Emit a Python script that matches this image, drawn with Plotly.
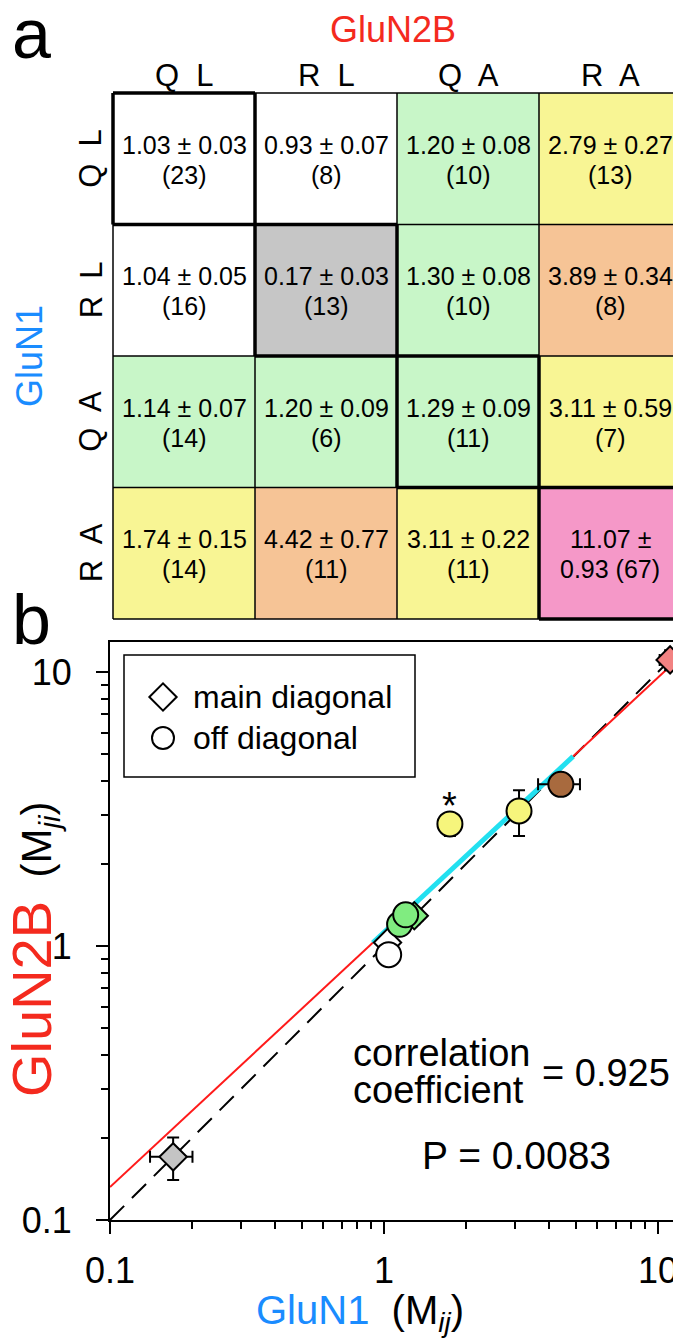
import numpy as np
import plotly.graph_objects as go

W, H = 681, 1339
FONT = "Liberation Sans, Arial, sans-serif"

# ---------------- data ----------------
subunits = ["Q  L", "R  L", "Q  A", "R  A"]          # GluN1 rows / GluN2B columns
m_mean = [[1.03, 0.93, 1.20, 2.79],
          [1.04, 0.17, 1.30, 3.89],
          [1.14, 1.20, 1.29, 3.11],
          [1.74, 4.42, 3.11, 11.07]]
m_sem = [[0.03, 0.07, 0.08, 0.27],
         [0.05, 0.03, 0.08, 0.34],
         [0.07, 0.09, 0.09, 0.59],
         [0.15, 0.77, 0.22, 0.93]]
m_n = [[23, 8, 10, 13],
       [16, 13, 10, 8],
       [14, 6, 11, 7],
       [14, 11, 11, 67]]
cell_class = [[0, 0, 2, 3],
              [0, 1, 2, 4],
              [2, 2, 2, 3],
              [3, 4, 3, 5]]
cell_palette = ["#ffffff", "#c6c6c6", "#c8f6c8", "#f8f594", "#f6c496", "#f598c8"]
marker_palette = ["#ffffff", "#c4c4c4", "#80ec80", "#f6f57c", "#a86a3e", "#f28282"]

fit_slope = 0.93
fit_log_intercept = 0.05
fit_x = [0.1, 11.07]
highlight_x = [0.91, 4.9]
identity_x = [0.1, 11.07]
starred_pairs = [(0, 3)]
stat_r = "0.925"
stat_p = "0.0083"

# ---------------- helpers (screen pixel -> paper; page body offsets the figure by 8px) ----------------
OFF = 8.0

def px(x):
    return (x - OFF) / W

def py(y):
    return 1 - (y - OFF) / H

def ann(x, y, text, size, color="black", xref="paper", yref="paper", xanchor="center",
        yanchor="middle", **kw):
    d = dict(x=x, y=y, xref=xref, yref=yref, text=text, showarrow=False,
             xanchor=xanchor, yanchor=yanchor,
             font=dict(size=size, color=color, family=FONT))
    d.update(kw)
    return d

fig = go.Figure()

# ---------------- panel a: heatmap ----------------
n = len(subunits)
cw, ch = 142.0, 131.5
gx0, gy0 = 113.0, 93.0
ncls = len(cell_palette)
cscale = []
for i, c in enumerate(cell_palette):
    cscale.append([i / ncls, c])
    cscale.append([(i + 1) / ncls, c])

fig.add_trace(go.Heatmap(z=cell_class, x=list(range(n)), y=list(range(n)),
                         colorscale=cscale, zmin=-0.5, zmax=ncls - 0.5,
                         showscale=False, hoverinfo="skip",
                         xaxis="x3", yaxis="y3"))

RIGHT = W + OFF          # screen x of paper right edge
hx0, hy0, hy1 = 110.0, 90.0, 622.0
x3_range = [(hx0 - gx0) / cw - 0.5, (RIGHT - gx0) / cw - 0.5]
y3_range = [(hy1 - gy0) / ch - 0.5, (hy0 - gy0) / ch - 0.5]

annotations = []
for i in range(n):
    for j in range(n):
        v, e, k = m_mean[i][j], m_sem[i][j], m_n[i][j]
        if v >= 10:
            l1, l2 = f"{v:.2f} ±", f"{e:.2f} ({k})"
        else:
            l1, l2 = f"{v:.2f} ± {e:.2f}", f"({k})"
        annotations.append(ann(j, i, l1, 25, xref="x3", yref="y3", yshift=14))
        annotations.append(ann(j, i, l2, 25, xref="x3", yref="y3", yshift=-16))

shapes = []
thin, thick = 1.5, 3.5
for j in range(n):  # vertical thin lines (far right edge is cut off)
    shapes.append(dict(type="line", xref="x3", yref="y3", x0=j - 0.5, x1=j - 0.5,
                       y0=-0.5, y1=n - 0.5, line=dict(color="black", width=thin)))
for i in range(n + 1):
    shapes.append(dict(type="line", xref="x3", yref="y3", x0=-0.5, x1=n - 0.5,
                       y0=i - 0.5, y1=i - 0.5, line=dict(color="black", width=thin)))
for k in range(n):
    segs = [((k - 0.5, k - 0.5), (k - 0.5, k + 0.5)),
            ((k - 0.5, k + 0.5), (k - 0.5, k - 0.5)),
            ((k - 0.5, k + 0.5), (k + 0.5, k + 0.5))]
    if k < n - 1:
        segs.append(((k + 0.5, k + 0.5), (k - 0.5, k + 0.5)))
    for (xa, xb), (ya, yb) in segs:
        shapes.append(dict(type="line", xref="x3", yref="y3", x0=xa, x1=xb, y0=ya, y1=yb,
                           line=dict(color="black", width=thick)))

# headers
for j, s in enumerate(subunits):
    annotations.append(ann(j, py(75), s, 31, xref="x3"))
    annotations.append(ann(px(91), j, s, 31, yref="y3", textangle=-90))
annotations.append(ann(px(393), py(29), "GluN2B", 36, color="#f42a1e"))
annotations.append(ann(px(29), py(356), "GluN1", 36, color="#1a8cff", textangle=-90))
annotations.append(ann(px(10), py(34), "a", 70, xanchor="left"))
annotations.append(ann(px(10), py(620), "b", 70, xanchor="left"))

# ---------------- panel b: scatter ----------------
fx = np.array(fit_x)
fig.add_trace(go.Scatter(x=identity_x, y=identity_x, mode="lines",
                         line=dict(color="black", width=2, dash="20px,11px"),
                         hoverinfo="skip", showlegend=False))
fig.add_trace(go.Scatter(x=fx, y=10 ** (fit_log_intercept + fit_slope * np.log10(fx)), mode="lines",
                         line=dict(color="#ff1a1a", width=2), hoverinfo="skip", showlegend=False))
hx = np.array(highlight_x)
fig.add_trace(go.Scatter(x=hx, y=10 ** (fit_log_intercept + fit_slope * np.log10(hx)), mode="lines",
                         line=dict(color="#22e0f0", width=5), hoverinfo="skip", showlegend=False))

dx, dy, dex, dey, dcol = [], [], [], [], []
for k in range(n):
    dx.append(m_mean[k][k]); dy.append(m_mean[k][k])
    dex.append(m_sem[k][k]); dey.append(m_sem[k][k])
    dcol.append(marker_palette[cell_class[k][k]])
ox, oy, oex, oey, ocol = [], [], [], [], []
for i in range(n):
    for j in range(i + 1, n):
        ox.append(m_mean[j][i]); oy.append(m_mean[i][j])
        oex.append(m_sem[j][i]); oey.append(m_sem[i][j])
        ocol.append(marker_palette[cell_class[i][j]])

eb = dict(type="data", color="black", thickness=2, width=6)
fig.add_trace(go.Scatter(x=dx, y=dy, mode="markers",
                         marker=dict(symbol="diamond", size=21, color=dcol,
                                     line=dict(color="black", width=2)),
                         error_x=dict(array=dex, **eb), error_y=dict(array=dey, **eb),
                         showlegend=False))
fig.add_trace(go.Scatter(x=ox, y=oy, mode="markers",
                         marker=dict(symbol="circle", size=25, color=ocol,
                                     line=dict(color="black", width=2)),
                         error_x=dict(array=oex, **eb), error_y=dict(array=oey, **eb),
                         showlegend=False))
for (i, j) in starred_pairs:
    annotations.append(ann(np.log10(m_mean[j][i]), np.log10(m_mean[i][j]), "*", 38,
                           xref="x", yref="y", yshift=18))

# legend (drawn manually)
shapes.append(dict(type="rect", xref="paper", yref="paper", x0=px(124), x1=px(415),
                   y0=py(655), y1=py(777), line=dict(color="black", width=1.5)))
fig.add_trace(go.Scatter(x=[px(163)], y=[py(697)], mode="markers", xaxis="x4", yaxis="y4",
                         marker=dict(symbol="diamond-open", size=21, color="black", line=dict(width=2)),
                         hoverinfo="skip", showlegend=False))
fig.add_trace(go.Scatter(x=[px(163)], y=[py(738)], mode="markers", xaxis="x4", yaxis="y4",
                         marker=dict(symbol="circle-open", size=22, color="black", line=dict(width=2)),
                         hoverinfo="skip", showlegend=False))
annotations.append(ann(px(191), py(697), "main diagonal", 32, xanchor="left"))
annotations.append(ann(px(191), py(738), "off diagonal", 32, xanchor="left"))

# statistics text
annotations.append(ann(px(351), py(1053), "correlation", 38, xanchor="left"))
annotations.append(ann(px(351), py(1090), "coefficient", 38, xanchor="left"))
annotations.append(ann(px(540), py(1073), "= " + stat_r, 38, xanchor="left"))
annotations.append(ann(px(420), py(1155), "P = " + stat_p, 39, xanchor="left"))

# axis titles
annotations.append(ann(px(360), py(1313),
                       '<span style="color:#1a8cff">GluN1</span>  (M<sub><i>ij</i></sub>)', 40))
annotations.append(ann(px(33), py(950),
                       '<span style="color:#f42a1e;font-size:56px">GluN2B</span>  (M<sub><i>ji</i></sub>)',
                       42, textangle=-90))

dec = 274.0
bx0, by0, by1 = 110.0, 642.0, 1220.0
x_range = [-1, -1 + (RIGHT - bx0) / dec]
y_range = [-1, -1 + (by1 - by0) / dec]
major = [0.1, 1, 10]
minor_vals = [m * d for d in (0.1, 1) for m in range(2, 10)]

axis_common = dict(type="log", showline=True, linecolor="black", linewidth=2,
                   ticks="outside", ticklen=12, tickwidth=2, tickcolor="black",
                   tickmode="array", tickvals=major, ticktext=["0.1", "1", "10"],
                   showgrid=False, zeroline=False, automargin=False,
                   tickfont=dict(size=36, color="black", family=FONT),
                   minor=dict(tickvals=minor_vals, ticks="outside", ticklen=7,
                              tickwidth=2, tickcolor="black", showgrid=False))

fig.update_layout(
    template="none",
    width=W, height=H, margin=dict(l=0, r=0, t=0, b=0, pad=0, autoexpand=False),
    paper_bgcolor="white", plot_bgcolor="rgba(0,0,0,0)", showlegend=False,
    xaxis=dict(domain=[px(bx0), 1], range=x_range, anchor="y", mirror=True,
               ticklabelstandoff=6, **axis_common),
    yaxis=dict(domain=[py(by1), py(by0)], range=y_range, anchor="x",
               ticklabelstandoff=17, **axis_common),
    xaxis3=dict(domain=[px(hx0), 1], range=x3_range, anchor="y3", visible=False, automargin=False),
    yaxis3=dict(domain=[py(hy1), py(hy0)], range=y3_range, anchor="x3", visible=False,
                automargin=False),
    xaxis4=dict(domain=[0, 1], range=[0, 1], anchor="y4", visible=False, fixedrange=True,
                automargin=False),
    yaxis4=dict(domain=[0, 1], range=[0, 1], anchor="x4", visible=False, fixedrange=True,
                automargin=False),
    annotations=annotations, shapes=shapes,
    font=dict(family=FONT, color="black"),
)

fig.write_html("out.html")
